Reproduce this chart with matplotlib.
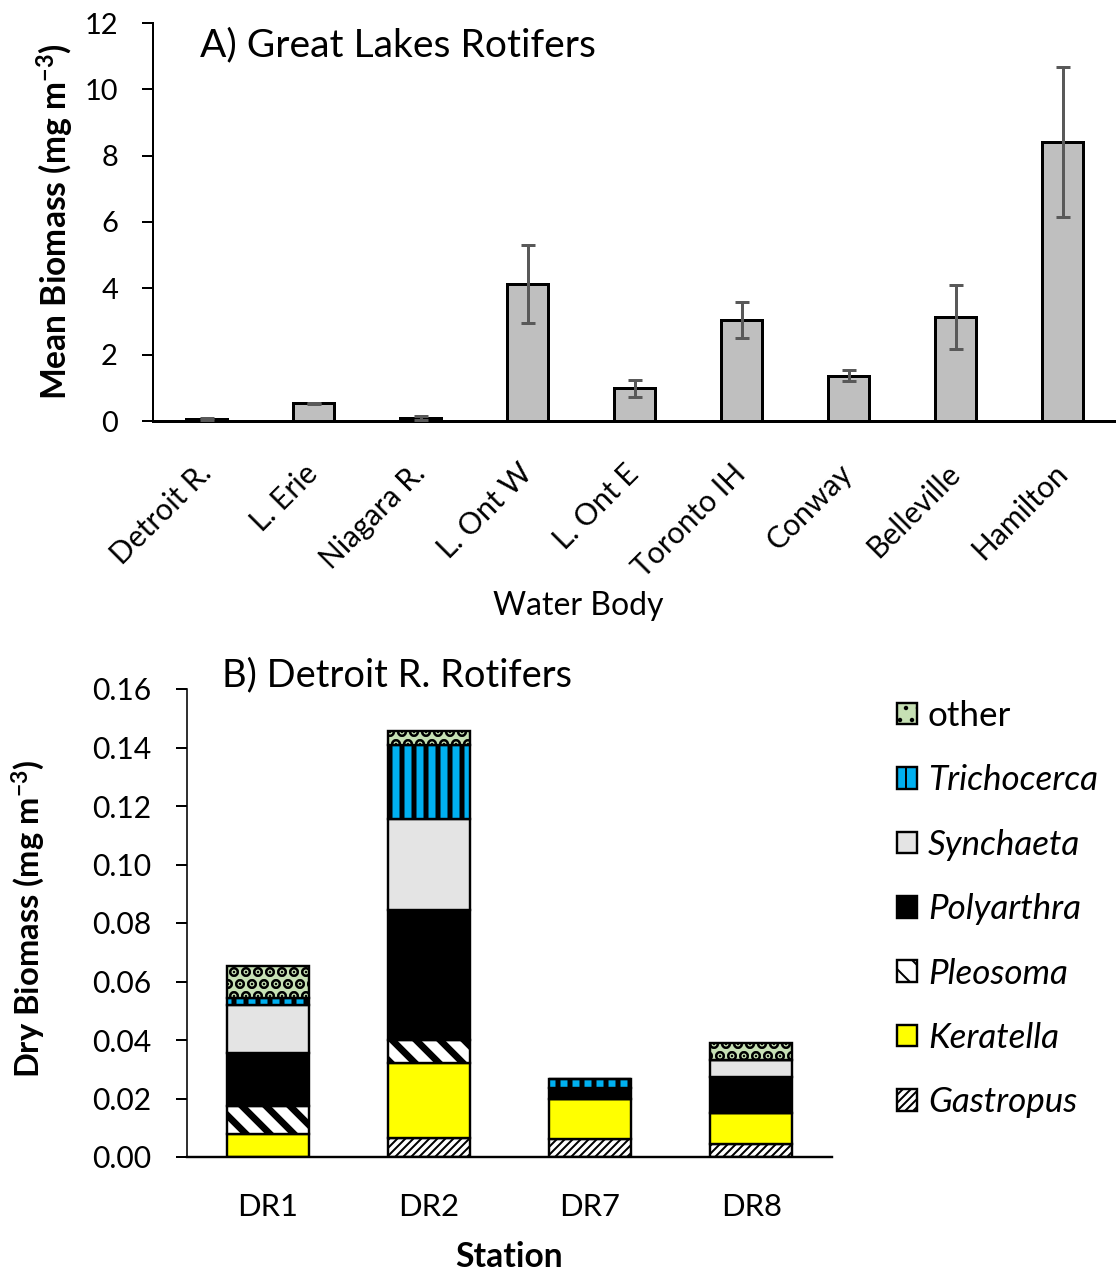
import matplotlib
matplotlib.use('Agg')
import matplotlib.pyplot as plt
import numpy as np
from matplotlib.ticker import FormatStrFormatter

# ---------------- data ----------------
water_bodies = ['Detroit R.', 'L. Erie', 'Niagara R.', 'L. Ont W', 'L. Ont E',
                'Toronto IH', 'Conway', 'Belleville', 'Hamilton']
mean_biomass = [0.07, 0.53, 0.10, 4.13, 0.99, 3.04, 1.37, 3.13, 8.41]
biomass_se = [0.03, 0.02, 0.06, 1.18, 0.26, 0.54, 0.16, 0.96, 2.25]

stations = ['DR1', 'DR2', 'DR7', 'DR8']
gastropus = [0.0, 0.0064, 0.0060, 0.0044]
keratella = [0.0079, 0.0256, 0.0140, 0.0105]
pleosoma = [0.0095, 0.0080, 0.0, 0.0]
polyarthra = [0.0183, 0.0444, 0.0035, 0.0126]
synchaeta = [0.0163, 0.0312, 0.0, 0.0057]
trichocerca = [0.0024, 0.0253, 0.0031, 0.0]
other = [0.0108, 0.0047, 0.0, 0.0057]

taxa_names = ['Gastropus', 'Keratella', 'Pleosoma', 'Polyarthra',
              'Synchaeta', 'Trichocerca', 'other']
taxa_values = [gastropus, keratella, pleosoma, polyarthra,
               synchaeta, trichocerca, other]

# styles: facecolor, hatch, hatch linewidth
taxa_styles = {
    'Gastropus': ('white', '//////', 1.0),
    'Keratella': ('#FFFF00', None, 1.0),
    'Pleosoma': ('white', '\\\\', 3.4),
    'Polyarthra': ('black', None, 1.0),
    'Synchaeta': ('#E4E4E4', None, 1.0),
    'Trichocerca': ('#00B0F0', '||', 2.5),
    'other': ('#C6E0B4', '..', 3.8),
}

# ---------------- style ----------------
plt.rcParams['font.family'] = ['Lato', 'DejaVu Sans']
plt.rcParams['mathtext.fontset'] = 'custom'
plt.rcParams['mathtext.rm'] = 'Lato'
plt.rcParams['mathtext.bf'] = 'Lato:bold'
plt.rcParams['mathtext.it'] = 'Lato:italic'

DPI = 144
W, H = 1116, 1274
fig = plt.figure(figsize=(W / DPI, H / DPI), dpi=DPI)

# ---------------- panel A ----------------
axA = fig.add_axes([153 / W, 1 - 421 / H, 963 / W, 398 / H])
x = np.arange(len(water_bodies))
axA.bar(x, mean_biomass, width=0.375, color='#BFBFBF', edgecolor='black',
        linewidth=1.5, zorder=2)
axA.errorbar(x, mean_biomass, yerr=biomass_se, fmt='none', ecolor='#595959',
             elinewidth=1.5, capsize=3.5, capthick=1.5, zorder=3)
axA.set_xlim(-0.5, len(water_bodies) - 0.5)
axA.set_ylim(0, 12)
axA.set_yticks(range(0, 13, 2))
axA.set_xticks(x)
axA.set_xticklabels(water_bodies, rotation=45, ha='right', va='center',
                    rotation_mode='anchor', fontsize=15)
axA.tick_params(axis='x', length=0, pad=24)
axA.tick_params(axis='y', direction='out', length=5.5, width=1,
                labelsize=14.5, pad=12)
for s in ['top', 'right']:
    axA.spines[s].set_visible(False)
axA.spines['left'].set_linewidth(1)
axA.spines['bottom'].set_linewidth(1.5)
axA.set_ylabel('Mean Biomass (mg m$^{\\mathbf{-3}}$)', fontsize=16.8,
               fontweight='bold')
axA.yaxis.label.set_va('center')
axA.yaxis.set_label_coords(-0.1018, 0.5)
axA.set_xlabel('Water Body', fontsize=16)
axA.xaxis.label.set_va('center')
axA.xaxis.set_label_coords(0.442, -0.465)
fig.text(200 / W, 1 - 45 / H, 'A) Great Lakes Rotifers', fontsize=19.5,
         va='center', ha='left')

# ---------------- panel B ----------------
axB = fig.add_axes([187 / W, 1 - 1157 / H, 645 / W, 468 / H])
xs = np.arange(len(stations))
bottom = np.zeros(len(stations))
for name, vals in zip(taxa_names, taxa_values):
    fc, hatch, hlw = taxa_styles[name]
    vals = np.array(vals)
    with plt.rc_context({'hatch.linewidth': hlw}):
        bars = axB.bar(xs, vals, 0.51, bottom=bottom, color=fc,
                       edgecolor='black', linewidth=1.2, hatch=hatch,
                       label=name, zorder=2)
        for b in bars:
            if hasattr(b, 'set_hatch_linewidth'):
                b.set_hatch_linewidth(hlw)
    bottom += vals

axB.set_xlim(-0.5, len(stations) - 0.5)
axB.set_ylim(0, 0.16)
axB.set_yticks(np.arange(0, 0.161, 0.02))
axB.yaxis.set_major_formatter(FormatStrFormatter('%.2f'))
axB.set_xticks(xs)
axB.set_xticklabels(stations, fontsize=15.5)
axB.tick_params(axis='x', length=0, pad=18)
axB.tick_params(axis='y', direction='out', length=5.5, width=1,
                labelsize=15, pad=12.5)
for s in ['top', 'right']:
    axB.spines[s].set_visible(False)
axB.spines['left'].set_linewidth(0.8)
axB.spines['bottom'].set_linewidth(1.2)
axB.set_ylabel('Dry Biomass (mg m$^{\\mathbf{-3}}$)', fontsize=16.4,
               fontweight='bold')
axB.yaxis.label.set_va('center')
axB.yaxis.set_label_coords(-0.2465, 0.51)
axB.set_xlabel('Station', fontsize=16.8, fontweight='bold')
axB.xaxis.label.set_va('center')
axB.xaxis.set_label_coords(0.499, -0.2137)
fig.text(222 / W, 1 - 675 / H, 'B) Detroit R. Rotifers', fontsize=19,
         va='center', ha='left')

handles, labels = axB.get_legend_handles_labels()
leg = fig.legend(handles[::-1], labels[::-1], loc='upper left',
                 bbox_to_anchor=(897 / W, 1 - 700 / H), frameon=False,
                 fontsize=17.5, handlelength=0.57, handleheight=0.57,
                 handletextpad=0.31, labelspacing=0.925, borderpad=0,
                 borderaxespad=0)
for t in leg.get_texts():
    if t.get_text() != 'other':
        t.set_fontstyle('italic')

fig.savefig('out.png', dpi=DPI)
